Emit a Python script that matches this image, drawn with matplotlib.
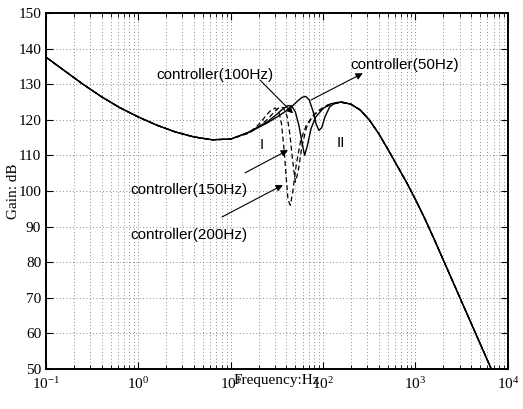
import numpy as np
import matplotlib
matplotlib.use("Agg")
import matplotlib.pyplot as plt
from matplotlib.ticker import LogLocator, FixedLocator, NullFormatter

plt.rcParams['font.family'] = ['Liberation Serif', 'DejaVu Serif']
plt.rcParams['mathtext.fontset'] = 'stix'

# shared part of the gain curve (log10 of frequency, dB)
base_logf = [-1.0, -0.8, -0.6, -0.4, -0.2, 0.0, 0.2, 0.4, 0.6, 0.8, 1.0,
             1.2, 1.3, 1.4, 1.5, 1.6, 1.7, 1.8, 1.9, 2.0, 2.1, 2.16, 2.2,
             2.3, 2.4, 2.5, 2.6, 2.7, 2.8, 2.9, 3.0, 3.1, 3.2, 3.3, 3.4,
             3.5, 3.6, 3.7, 3.8, 3.86]
base_gain = [137.6, 133.8, 130.0, 126.5, 123.4, 120.8, 118.5, 116.6, 115.2,
             114.4, 114.6, 116.4, 117.7, 119.1, 120.6, 122.1, 123.4, 124.2,
             124.7, 124.9, 125.0, 125.0, 124.9, 124.4, 122.8, 120.0, 116.2,
             111.8, 107.2, 102.6, 97.6, 92.3, 86.6, 80.7, 74.8, 68.9, 63.0,
             57.1, 51.2, 47.6]

# controller notch region, per controller
c50_logf = [1.2, 1.4, 1.5, 1.6, 1.66, 1.72, 1.77, 1.81, 1.85, 1.89, 1.925,
            1.955, 1.985, 2.02, 2.07, 2.13, 2.2]
c50_gain = [116.5, 119.2, 120.8, 122.5, 123.7, 125.2, 126.3, 126.6, 125.6,
            122.5, 118.8, 117.0, 117.8, 120.8, 123.6, 124.8, 125.0]

c100_logf = [1.2, 1.4, 1.5, 1.56, 1.62, 1.66, 1.7, 1.74, 1.77, 1.8, 1.83,
             1.87, 1.92, 2.0, 2.08, 2.2]
c100_gain = [116.6, 119.5, 121.6, 123.0, 124.0, 123.9, 122.2, 118.2, 113.8,
             110.0, 112.8, 117.6, 120.8, 123.2, 124.5, 125.0]

c150_logf = [1.2, 1.3, 1.4, 1.47, 1.53, 1.57, 1.61, 1.64, 1.67, 1.7, 1.73,
             1.77, 1.82, 1.88, 1.95, 2.05, 2.2]
c150_gain = [116.3, 118.0, 120.2, 122.2, 123.6, 123.4, 121.0, 116.0, 108.5,
             102.5, 105.5, 112.5, 117.8, 120.8, 122.6, 124.2, 124.9]

c200_logf = [1.2, 1.3, 1.37, 1.43, 1.48, 1.52, 1.55, 1.58, 1.6, 1.62, 1.645,
             1.67, 1.71, 1.76, 1.82, 1.9, 2.0, 2.1, 2.2]
c200_gain = [116.4, 118.6, 120.8, 122.6, 123.3, 122.4, 118.8, 111.0, 104.0,
             97.5, 96.0, 99.5, 107.5, 114.5, 118.6, 121.4, 123.3, 124.5,
             124.9]


def full_curve(logf, gain):
    lo = logf[0]
    hi = logf[-1]
    xs = [v for v in base_logf if v < lo] + logf + [v for v in base_logf if v > hi]
    ys = ([g for v, g in zip(base_logf, base_gain) if v < lo] + gain +
          [g for v, g in zip(base_logf, base_gain) if v > hi])
    return 10.0 ** np.array(xs), np.array(ys)


fig = plt.figure(figsize=(5.23, 4.09), dpi=100)
ax = fig.add_axes([0.088, 0.098, 0.883, 0.870])

for logf, gain, ls in [(c50_logf, c50_gain, '-'), (c100_logf, c100_gain, '-'),
                       (c150_logf, c150_gain, '--'), (c200_logf, c200_gain, '--')]:
    f, g = full_curve(logf, gain)
    if ls == '--':
        ax.semilogx(f, g, color='black', linestyle='--', linewidth=0.9,
                    dashes=(4, 2.5))
    else:
        ax.semilogx(f, g, color='black', linestyle='-', linewidth=1.0)

ax.set_xlim(1e-1, 1e4)
ax.set_ylim(50, 150)
ax.xaxis.set_major_locator(LogLocator(base=10, numticks=10))
ax.xaxis.set_minor_locator(LogLocator(base=10, subs=np.arange(2, 10), numticks=10))
ax.xaxis.set_minor_formatter(NullFormatter())
ax.yaxis.set_major_locator(FixedLocator(np.arange(50, 151, 10)))

ax.grid(True, which='major', axis='both', linestyle=(0, (1, 3)),
        color='#666666', linewidth=0.6)
ax.grid(True, which='minor', axis='x', linestyle=(0, (1, 3)),
        color='#666666', linewidth=0.6)

ax.tick_params(which='both', direction='in', top=True, right=True,
               labelsize=11)
ax.tick_params(which='major', length=5, width=0.8)
ax.tick_params(which='minor', length=3, width=0.6)
ax.tick_params(axis='x', pad=5)
for s in ax.spines.values():
    s.set_linewidth(1.4)

ax.set_xlabel('Frequency:Hz', fontsize=11, labelpad=-13)
ax.set_ylabel('Gain: dB', fontsize=11, labelpad=-1)

sans = ['Liberation Sans', 'DejaVu Sans']
arrow = dict(arrowstyle='-|>', color='black', linewidth=0.8,
             mutation_scale=10, shrinkA=0, shrinkB=0)
lab_size = 11

ax.text(10 ** 0.2, 132.6, 'controller(100Hz)', fontsize=lab_size, family=sans,
        va='center', ha='left')
ax.annotate('', xy=(10 ** 1.675, 121.8), xytext=(10 ** 1.316, 131.2),
            arrowprops=arrow)

ax.text(10 ** 2.29, 135.4, 'controller(50Hz)', fontsize=lab_size, family=sans,
        va='center', ha='left')
ax.annotate('', xy=(10 ** 2.43, 133.1), xytext=(10 ** 1.87, 125.6),
            arrowprops=arrow)

ax.text(10 ** -0.09, 100.3, 'controller(150Hz)', fontsize=lab_size, family=sans,
        va='center', ha='left')
ax.annotate('', xy=(10 ** 1.62, 111.5), xytext=(10 ** 1.154, 105.1),
            arrowprops=arrow)

ax.text(10 ** -0.09, 87.6, 'controller(200Hz)', fontsize=lab_size, family=sans,
        va='center', ha='left')
ax.annotate('', xy=(10 ** 1.565, 101.7), xytext=(10 ** 0.905, 92.7),
            arrowprops=arrow)

ax.text(10 ** 1.34, 112.9, 'I', fontsize=11, family=sans, ha='center', va='center')
ax.text(10 ** 2.19, 113.5, 'II', fontsize=11, family=sans, ha='center', va='center')

fig.savefig('out.png', dpi=100)
